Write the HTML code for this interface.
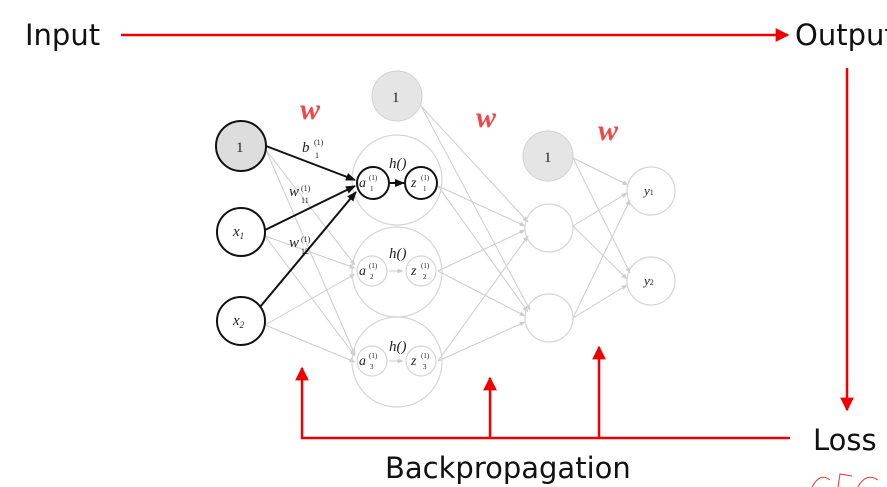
<!DOCTYPE html>
<html><head><style>
body{margin:0;background:#fff;}
svg{display:block}
.big{font-family:"DejaVu Sans","Liberation Sans",sans-serif;font-size:29px;fill:#111}
.s{font-family:"Liberation Serif",serif;font-style:italic;fill:#222}
</style></head><body>
<svg width="887" height="487" viewBox="0 0 887 487" xmlns="http://www.w3.org/2000/svg">
<defs>
<marker id="r" viewBox="0 0 10 10" refX="9" refY="5" markerWidth="5.5" markerHeight="5.5" orient="auto"><path d="M0,0L10,5L0,10z" fill="#e00"/></marker>
<marker id="g" viewBox="0 0 10 10" refX="9" refY="5" markerWidth="6" markerHeight="6" orient="auto"><path d="M0,1L10,5L0,9z" fill="#ccc"/></marker>
<marker id="k" viewBox="0 0 10 10" refX="9" refY="5" markerWidth="5" markerHeight="5" orient="auto"><path d="M0,1L10,5L0,9z" fill="#111"/></marker>
</defs>
<g stroke="#ccc" stroke-width="1" fill="none" marker-end="url(#g)">
<line x1="266" y1="150" x2="355" y2="265"/>
<line x1="266" y1="150" x2="355" y2="355"/>
<line x1="265" y1="236" x2="355" y2="268"/>
<line x1="265" y1="236" x2="355" y2="356"/>
<line x1="265" y1="325" x2="355" y2="274"/>
<line x1="265" y1="325" x2="355" y2="362"/>
<line x1="421" y1="106" x2="528" y2="222"/>
<line x1="421" y1="106" x2="530" y2="310"/>
<line x1="438" y1="186" x2="525" y2="226"/>
<line x1="438" y1="186" x2="528" y2="312"/>
<line x1="438" y1="271" x2="525" y2="230"/>
<line x1="438" y1="271" x2="525" y2="316"/>
<line x1="438" y1="361" x2="528" y2="236"/>
<line x1="438" y1="361" x2="525" y2="322"/>
<line x1="573" y1="158" x2="628" y2="185"/>
<line x1="573" y1="158" x2="630" y2="273"/>
<line x1="573" y1="226" x2="627" y2="193"/>
<line x1="573" y1="226" x2="627" y2="279"/>
<line x1="573" y1="318" x2="630" y2="200"/>
<line x1="573" y1="318" x2="627" y2="285"/>
<line x1="389" y1="271" x2="403" y2="271"/>
<line x1="389" y1="361" x2="403" y2="361"/>
</g>
<g fill="none" stroke="#d5d5d5" stroke-width="1.2">
<circle cx="397" cy="180" r="45"/><circle cx="397" cy="272" r="45"/><circle cx="397" cy="362" r="45"/>
<circle cx="372" cy="271" r="15"/><circle cx="421" cy="271" r="15"/>
<circle cx="372" cy="361" r="15"/><circle cx="421" cy="361" r="15"/>
<circle cx="549" cy="228" r="24"/><circle cx="549" cy="318" r="24"/>
<circle cx="651" cy="191" r="24"/><circle cx="651" cy="281" r="24"/>
</g>
<circle cx="397" cy="96" r="25" fill="#e5e5e5" stroke="#d0d0d0"/>
<circle cx="548" cy="156" r="25" fill="#e5e5e5" stroke="#d0d0d0"/>
<g stroke="#111" stroke-width="2" marker-end="url(#k)">
<line x1="266" y1="146" x2="355" y2="180"/>
<line x1="265" y1="230" x2="355" y2="186"/>
<line x1="260" y1="307" x2="356" y2="192"/>
<line x1="390" y1="183" x2="404" y2="183"/>
</g>
<circle cx="241" cy="146" r="25" fill="#ddd" stroke="#111" stroke-width="2"/>
<circle cx="241" cy="232" r="24" fill="#fff" stroke="#111" stroke-width="2"/>
<circle cx="241" cy="321" r="24" fill="#fff" stroke="#111" stroke-width="2"/>
<circle cx="373" cy="183" r="16" fill="#fff" stroke="#111" stroke-width="2"/>
<circle cx="421" cy="183" r="16" fill="#fff" stroke="#111" stroke-width="2"/>
<g class="s">
<text x="236" y="152" font-size="15" font-style="normal">1</text>
<text x="392" y="102" font-size="15" font-style="normal">1</text>
<text x="544" y="162" font-size="15" font-style="normal">1</text>
<text x="233" y="236" font-size="15">x<tspan font-size="9" dy="3">1</tspan></text>
<text x="233" y="325" font-size="15">x<tspan font-size="9" dy="3">2</tspan></text>
<text x="302" y="152" font-size="15">b</text><text x="314" y="145" font-size="8" font-style="normal">(1)</text><text x="315" y="158" font-size="8" font-style="normal">1</text>
<text x="289" y="196" font-size="15">w</text><text x="301" y="191" font-size="8" font-style="normal">(1)</text><text x="301" y="203" font-size="8" font-style="normal">11</text>
<text x="289" y="247" font-size="15">w</text><text x="301" y="242" font-size="8" font-style="normal">(1)</text><text x="301" y="254" font-size="8" font-style="normal">12</text>
<text x="389" y="168" font-size="15">h()</text>
<text x="389" y="258" font-size="15">h()</text>
<text x="389" y="351" font-size="15">h()</text>
<text x="359" y="187" font-size="14">a</text><text x="369" y="180" font-size="7" font-style="normal">(1)</text><text x="370" y="191" font-size="7" font-style="normal">1</text>
<text x="411" y="187" font-size="14">z</text><text x="421" y="180" font-size="7" font-style="normal">(1)</text><text x="423" y="191" font-size="7" font-style="normal">1</text>
<text x="359" y="275" font-size="14">a</text><text x="369" y="268" font-size="7" font-style="normal">(1)</text><text x="370" y="279" font-size="7" font-style="normal">2</text>
<text x="411" y="275" font-size="14">z</text><text x="421" y="268" font-size="7" font-style="normal">(1)</text><text x="423" y="279" font-size="7" font-style="normal">2</text>
<text x="359" y="365" font-size="14">a</text><text x="369" y="358" font-size="7" font-style="normal">(1)</text><text x="370" y="369" font-size="7" font-style="normal">3</text>
<text x="411" y="365" font-size="14">z</text><text x="421" y="358" font-size="7" font-style="normal">(1)</text><text x="423" y="369" font-size="7" font-style="normal">3</text>
<text x="644" y="195" font-size="13">y<tspan font-size="8" font-style="normal">1</tspan></text>
<text x="644" y="285" font-size="13">y<tspan font-size="8" font-style="normal">2</tspan></text>
</g>
<g font-family="Liberation Serif,serif" font-style="italic" font-weight="bold" font-size="30" fill="#f04848">
<text x="300" y="119">w</text><text x="476" y="127">w</text><text x="598" y="140">w</text>
</g>
<g stroke="#e00" stroke-width="2.5" fill="none">
<line x1="121" y1="35" x2="788" y2="35" marker-end="url(#r)"/>
<line x1="847" y1="68" x2="847" y2="410" marker-end="url(#r)"/>
<polyline points="790,438 302,438 302,368" marker-end="url(#r)"/>
<line x1="490" y1="438" x2="490" y2="378" marker-end="url(#r)"/>
<line x1="599" y1="438" x2="599" y2="347" marker-end="url(#r)"/>
</g>
<text class="big" x="25" y="45">Input</text>
<text class="big" x="795" y="45">Output</text>
<text class="big" x="813" y="450">Loss</text>
<text class="big" x="385" y="478">Backpropagation</text>
<path d="M812,487 Q820,472 830,480 M838,487 L840,474 L852,476 M858,487 Q866,472 878,480" stroke="#e33" stroke-width="1" fill="none"/>
</svg>
</body></html>
